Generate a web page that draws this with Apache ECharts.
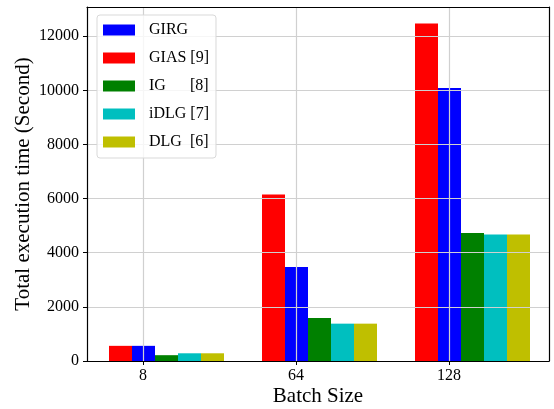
<!DOCTYPE html>
<html><head><meta charset="utf-8">
<script src="https://cdn.jsdelivr.net/npm/echarts@6/dist/echarts.min.js"></script>
<style>html,body{margin:0;padding:0;background:#fff}#c{width:554px;height:409px}</style>
</head><body><div id="c"></div>
<script>
const categories = ['8', '64', '128'];
const seriesNames = ['GIAS [9]', 'GIRG', 'IG      [8]', 'iDLG [7]', 'DLG  [6]'];
const legendOrder = ['GIRG', 'GIAS [9]', 'IG      [8]', 'iDLG [7]', 'DLG  [6]'];
const GIAS = [560, 6150, 12470];
const GIRG = [560, 3470, 10090];
const IG = [215, 1590, 4730];
const iDLG = [285, 1380, 4670];
const DLG = [285, 1380, 4670];
const yTicks = [0, 2000, 4000, 6000, 8000, 10000, 12000];
const seriesValues = [GIAS, GIRG, IG, iDLG, DLG];
const colors = ['#ff0000', '#0000ff', '#008000', '#00bfbf', '#bfbf00'];

const FONT = "'Liberation Serif', 'Times New Roman', serif";
const YMAX = 13080;
const chart = echarts.init(document.getElementById('c'), null, {renderer: 'canvas'});
const frameLine = {show: true, onZero: false, lineStyle: {color: '#000', width: 1.2}};
chart.setOption({
  animation: false,
  backgroundColor: '#fff',
  textStyle: {fontFamily: FONT},
  grid: [
    {left: 90, right: 5, top: 7, bottom: 48, containLabel: false, outerBoundsMode: 'none'},
    {left: 143, right: 105, top: 7, bottom: 48, containLabel: false, outerBoundsMode: 'none'},
    {left: 87, right: 5, top: 7, bottom: 48, containLabel: false, outerBoundsMode: 'none'}
  ],
  legend: {
    orient: 'vertical', left: 97, top: 15, z: 10,
    padding: [7, 7, 8, 6],
    itemWidth: 32, itemHeight: 11, itemGap: 12,
    icon: 'rect',
    backgroundColor: 'rgba(255,255,255,0.8)',
    borderColor: '#d9d9d9', borderWidth: 1, borderRadius: 3,
    textStyle: {fontFamily: FONT, fontSize: 16, color: '#000', lineHeight: 11, padding: [0, 0, 0, 9]},
    data: legendOrder
  },
  xAxis: [
    {gridIndex: 0, type: 'category', data: categories, show: false},
    {gridIndex: 1, type: 'category', data: categories, boundaryGap: false, z: 5,
      axisLine: {show: false, onZero: false},
      axisTick: {show: true, length: 4, inside: false, lineStyle: {color: '#000', width: 1}},
      axisLabel: {show: true, margin: 7, fontFamily: FONT, fontSize: 16, color: '#000'},
      splitLine: {show: true, lineStyle: {color: '#d0d0d0', width: 1.2}}},
    {gridIndex: 2, type: 'value', min: 0, max: 1, position: 'bottom', z: 6,
      name: 'Batch Size', nameLocation: 'middle', nameGap: 25, nameMoveOverlap: false,
      nameTextStyle: {fontFamily: FONT, fontSize: 21, color: '#000'},
      axisLine: frameLine,
      axisTick: {show: false}, axisLabel: {show: false}, splitLine: {show: false}},
    {gridIndex: 2, type: 'value', min: 0, max: 1, position: 'top', z: 6,
      axisLine: frameLine,
      axisTick: {show: false}, axisLabel: {show: false}, splitLine: {show: false}}
  ],
  yAxis: [
    {gridIndex: 0, type: 'value', min: 0, max: YMAX, show: false},
    {gridIndex: 1, type: 'value', min: 0, max: YMAX, show: false},
    {gridIndex: 2, type: 'value', min: 0, max: YMAX, interval: 2000, position: 'left', z: 5,
      name: 'Total execution time (Second)', nameLocation: 'middle', nameGap: 53, nameMoveOverlap: false,
      nameTextStyle: {fontFamily: FONT, fontSize: 21, color: '#000'},
      axisLine: frameLine,
      axisTick: {show: true, length: 4, inside: false, customValues: yTicks, lineStyle: {color: '#000', width: 1}},
      axisLabel: {show: true, margin: 8, customValues: yTicks, formatter: v => String(v), fontFamily: FONT, fontSize: 16, color: '#000'},
      splitLine: {show: true, lineStyle: {color: '#d0d0d0', width: 1.2}}},
    {gridIndex: 2, type: 'value', min: 0, max: YMAX, position: 'right', z: 6,
      axisLine: frameLine,
      axisTick: {show: false}, axisLabel: {show: false}, splitLine: {show: false}}
  ],
  series: seriesNames.map((name, i) => ({
    name: name, type: 'bar', xAxisIndex: 0, yAxisIndex: 0,
    data: seriesValues[i], barWidth: 23, barGap: '0%',
    itemStyle: {color: colors[i]}, z: 2
  }))
});
</script></body></html>
